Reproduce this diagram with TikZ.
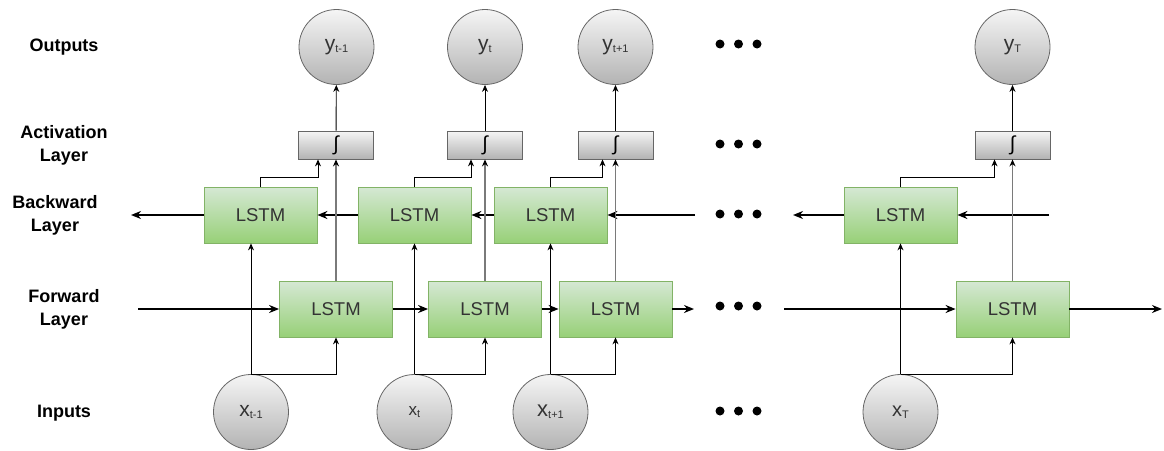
\documentclass[tikz,border=0pt]{standalone}
\usepackage{fontspec}
\setmainfont{Liberation Sans}
\usepackage{tikz}
\usetikzlibrary{arrows.meta}

\definecolor{lstmtop}{HTML}{D5E8D4}
\definecolor{lstmbot}{HTML}{97D077}
\definecolor{lstmedge}{HTML}{82B366}
\definecolor{greytop}{HTML}{F5F5F5}
\definecolor{greybot}{HTML}{B3B3B3}
\definecolor{greyedge}{HTML}{666666}
\definecolor{upline}{HTML}{7A7A7A}
\definecolor{txt}{HTML}{333333}

% main letter of a unit, then its subscript
\newcommand{\ulab}[3]{{\fontsize{#1}{#1}\selectfont #2}\raisebox{-2pt}{\fontsize{11}{11}\selectfont #3}}

\tikzset{
  lstm/.style={draw=lstmedge, line width=0.8pt, top color=lstmtop, bottom color=lstmbot,
    minimum width=113pt, minimum height=56pt, inner sep=0pt, text=txt,
    font=\fontsize{18.5}{20}\selectfont},
  actbox/.style={draw=greyedge, line width=0.8pt, top color=greytop, bottom color=greybot,
    minimum width=75pt, minimum height=28pt, inner sep=0pt, text=black,
    font=\fontsize{20}{20}\selectfont\itshape},
  unit/.style={circle, draw=greyedge, line width=0.8pt, top color=greytop, bottom color=greybot,
    minimum size=75pt, inner sep=0pt, text=txt},
  lbl/.style={font=\bfseries\fontsize{18}{23}\selectfont, align=center},
  flow/.style={-{Stealth[length=10pt,width=8pt]}, line width=1.8pt},
  feed/.style={-{Stealth[length=7pt,width=6pt]}, line width=0.9pt},
  fwdup/.style={-{Stealth[length=7pt,width=6pt,color=black]}, line width=1.8pt, draw=upline},
  dot/.style={circle, fill=black, inner sep=0pt, minimum size=9pt},
}

\begin{document}
\begin{tikzpicture}[x=1pt, y=-1pt]
  \useasboundingbox (0,0) rectangle (1164,450);

  % row labels
  \node[lbl] (lout) at (64,47) {Outputs};
  \node[lbl] (lact) at (64,145) {Activation\\Layer};
  \node[lbl] (lbwd) at (55,215) {Backward\\Layer};
  \node[lbl] (lfwd) at (64,309) {Forward\\Layer};
  \node[lbl] (lin) at (64,413) {Inputs};

  % outputs
  \node[unit] (y1) at (336.5,47) {\ulab{21}{y}{t-1}};
  \node[unit] (y2) at (485,47) {\ulab{21}{y}{t}};
  \node[unit] (y3) at (615.5,47) {\ulab{21}{y}{t+1}};
  \node[unit] (y4) at (1012.5,47) {\ulab{21}{y}{T}};

  % activation layer
  \node[actbox] (a1) at (336,145) {∫};
  \node[actbox] (a2) at (485,145) {∫};
  \node[actbox] (a3) at (615.5,145) {∫};
  \node[actbox] (a4) at (1012.5,145) {∫};

  % backward layer
  \node[lstm] (b1) at (260.5,215) {LSTM};
  \node[lstm] (b2) at (414.5,215) {LSTM};
  \node[lstm] (b3) at (550.5,215) {LSTM};
  \node[lstm] (b4) at (900.5,215) {LSTM};

  % forward layer
  \node[lstm] (f1) at (336,309) {LSTM};
  \node[lstm] (f2) at (485,309) {LSTM};
  \node[lstm] (f3) at (615.5,309) {LSTM};
  \node[lstm] (f4) at (1012.5,309) {LSTM};

  % inputs
  \node[unit] (x1) at (251,412) {\ulab{21}{x}{t-1}};
  \node[unit] (x2) at (414.5,412) {\ulab{17}{x}{t}};
  \node[unit] (x3) at (550.5,412) {\ulab{22}{x}{t+1}};
  \node[unit] (x4) at (900.5,412) {\ulab{20}{x}{T}};

  % free ends of the chains
  \coordinate (bend1) at (131,215);
  \coordinate (bin3) at (695,215);
  \coordinate (bout4) at (793,215);
  \coordinate (bin4) at (1049,215);
  \coordinate (fin1) at (138,309);
  \coordinate (fout3) at (694,309);
  \coordinate (fin4) at (784,309);
  \coordinate (fend) at (1162,309);

  % dots
  \foreach \r/\yy in {1/44,2/144,3/214,4/306,5/411}
    \foreach \c/\xx in {1/720,2/738.5,3/757}
      \node[dot] (d\r\c) at (\xx,\yy) {};

  % backward chain
  \draw[flow] (b1) -- (bend1);
  \draw[flow] (b2) -- (b1);
  \draw[flow] (b3) -- (b2);
  \draw[flow] (bin3) -- (b3);
  \draw[flow] (b4) -- (bout4);
  \draw[flow] (bin4) -- (b4);

  % forward chain
  \draw[flow] (fin1) -- (f1);
  \draw[flow] (f1) -- (f2);
  \draw[flow] (f2) -- (f3);
  \draw[flow] (f3) -- (fout3);
  \draw[flow] (fin4) -- (f4);
  \draw[flow] (f4) -- (fend);

  % inputs into both layers
  \draw[feed] (x1.north) -- (x1.north |- b1.south);
  \draw[feed] (x1.north) -| (f1.south);
  \draw[feed] (x2.north) -- (b2.south);
  \draw[feed] (x2.north) -| (f2.south);
  \draw[feed] (x3.north) -- (b3.south);
  \draw[feed] (x3.north) -| (f3.south);
  \draw[feed] (x4.north) -- (b4.south);
  \draw[feed] (x4.north) -| (f4.south);

  % both layers into the activation
  \draw[fwdup] (f1) -- (a1);
  \draw[fwdup] (f2) -- (a2);
  \draw[fwdup] (f3) -- (a3);
  \draw[fwdup] (f4) -- (a4);
  \draw[feed] (b1.north) -- ++(0,-9) -| ([xshift=-18pt]a1.south);
  \draw[feed] (b2.north) -- ++(0,-9) -| ([xshift=-14pt]a2.south);
  \draw[feed] (b3.north) -- ++(0,-9) -| ([xshift=-13pt]a3.south);
  \draw[feed] (b4.north) -- ++(0,-9) -| ([xshift=-18pt]a4.south);

  % activation to outputs
  \draw[feed] (a1) -- (y1);
  \draw[feed] (a2) -- (y2);
  \draw[feed] (a3) -- (y3);
  \draw[feed] (a4) -- (y4);
\end{tikzpicture}
\end{document}
